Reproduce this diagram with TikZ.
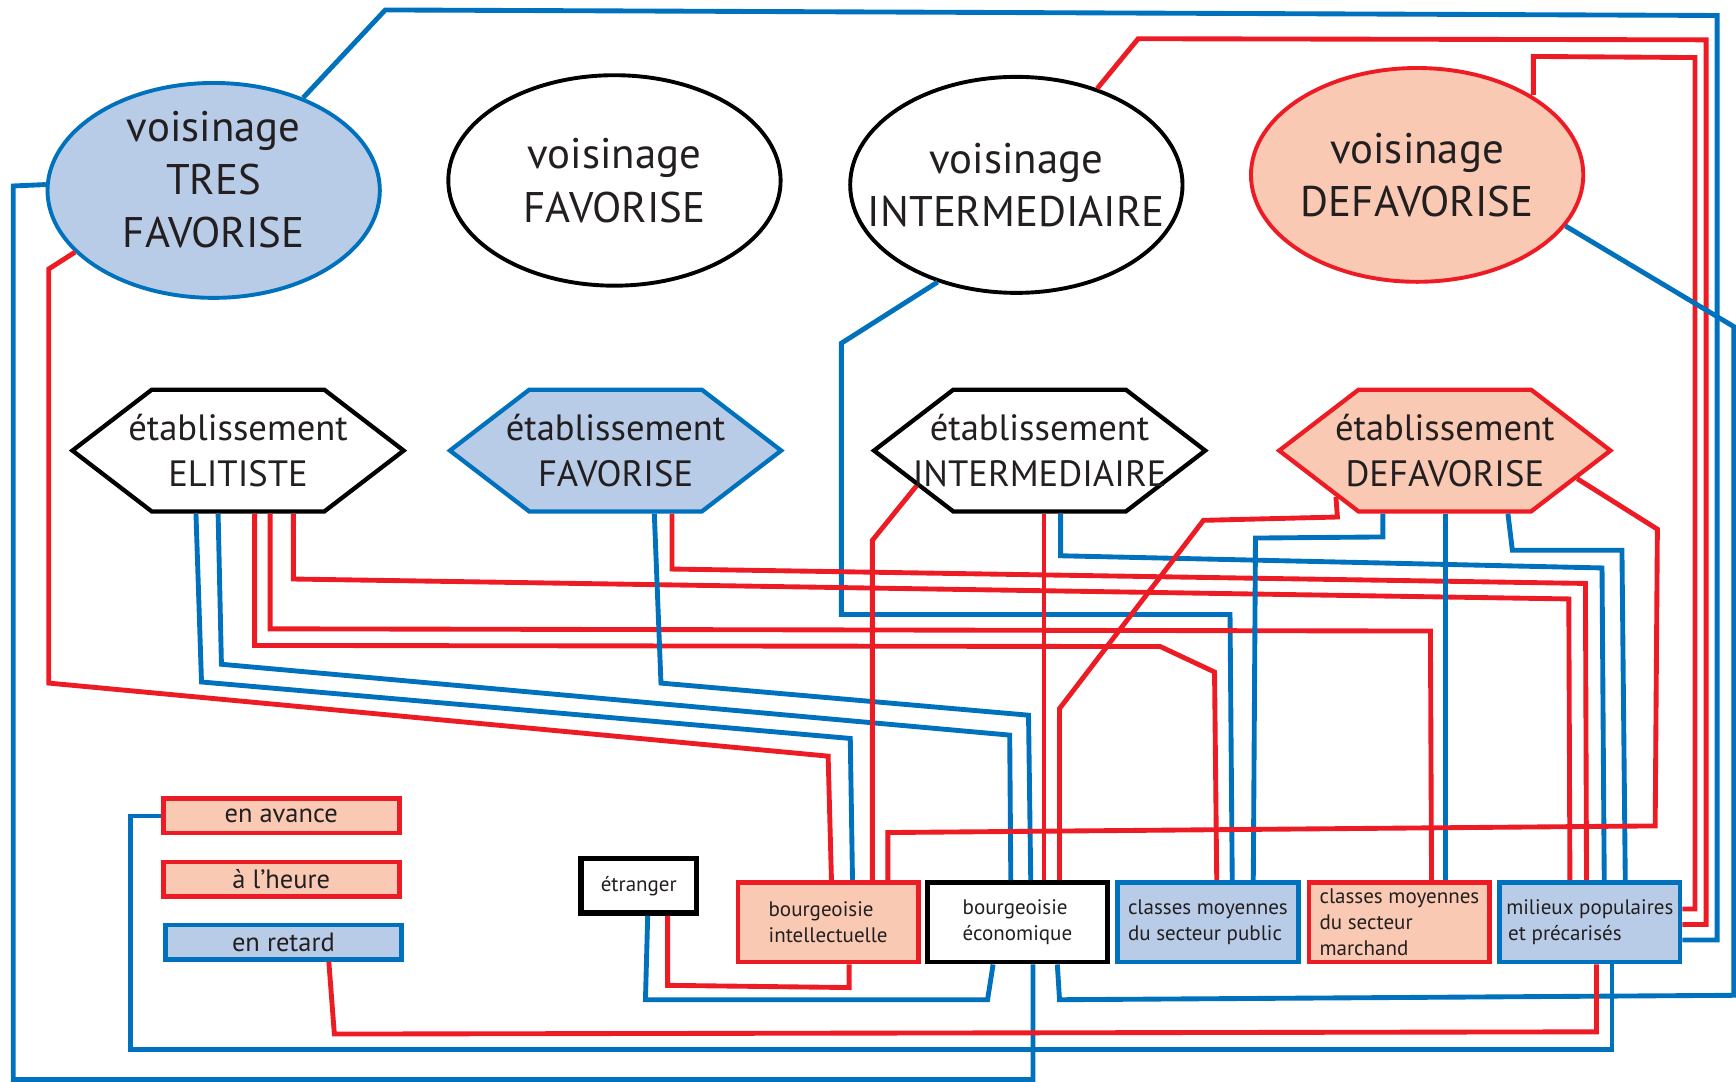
\documentclass[tikz,border=0pt]{standalone}
\usepackage{fontspec}
\setmainfont{PT Sans}
\usepackage{tikz}
\usetikzlibrary{shapes.geometric,shapes.symbols}
\definecolor{lnblue}{HTML}{0071BC}
\definecolor{lnred}{HTML}{ED1C24}
\definecolor{fillblue}{HTML}{B8CCE8}
\definecolor{fillrose}{HTML}{F9C9B3}
\definecolor{txtdark}{HTML}{231F20}

\begin{document}
\begin{tikzpicture}[x=0.01cm, y=-0.01cm,
  voisin/.style={ellipse, line width=1pt, inner xsep=-0.35cm, inner ysep=-0.2cm, minimum width=3cm, align=center, text=txtdark, font=\fontsize{11}{13.7}\selectfont},
  etab/.style={signal, signal to=west and east, signal pointer angle=75, line width=1.1pt, inner xsep=-0.5cm, inner ysep=0pt, minimum width=2.99cm, minimum height=1.1cm, align=center, text=txtdark, font=\fontsize{9.4}{12}\selectfont},
  classe/.style={rectangle, line width=1.2pt, inner sep=0pt, minimum width=1.63cm, minimum height=0.72cm, align=left, text=txtdark, font=\fontsize{5.4}{6.6}\selectfont},
  legende/.style={rectangle, line width=1.2pt, inner sep=0pt, minimum width=2.13cm, minimum height=0.31cm, text=txtdark, font=\fontsize{6.8}{7}\selectfont},
  bleu/.style={draw=lnblue, fill=fillblue},
  rose/.style={draw=lnred, fill=fillrose},
  blanc/.style={draw=black, fill=white},
  rlien/.style={lnred, line width=1.25pt},
  blien/.style={lnblue, line width=1.25pt},
]
\useasboundingbox (0,0) rectangle (1568,977);

% voisinages (top row)
\node[voisin, bleu, minimum height=1.94cm, text depth=0.2cm] (vtf) at (193,172) {voisinage\\TRES\\FAVORISE};
\node[voisin, blanc, minimum height=1.90cm] (vf)  at (555,163)  {voisinage\\FAVORISE};
\node[voisin, blanc, minimum height=1.95cm] (vi)  at (918,167)  {voisinage\\INTERMEDIAIRE};
\node[voisin, rose, minimum height=1.93cm]  (vd)  at (1280,158) {voisinage\\DEFAVORISE};

% etablissements (middle row)
\node[etab, blanc] (ee) at (215,407)  {établissement\\ELITISTE};
\node[etab, bleu]  (ef) at (556,407)  {établissement\\FAVORISE};
\node[etab, blanc] (ei) at (939,407)  {établissement\\INTERMEDIAIRE};
\node[etab, rose]  (ed) at (1305,407) {établissement\\DEFAVORISE};

% origines sociales (bottom row)
\node[classe, blanc, line width=1.5pt, minimum width=1.04cm, minimum height=0.49cm] (etr) at (577,800) {étranger};
\node[classe, rose]  (bi)  at (748,833)  {bourgeoisie\\intellectuelle};
\node[classe, blanc] (be)  at (919,833)  {bourgeoisie\\économique};
\node[classe, bleu]  (cmp) at (1091,833) {classes moyennes\\du secteur public};
\node[classe, rose]  (cmm) at (1264,833) {classes moyennes\\du secteur\\marchand};
\node[classe, bleu]  (mpp) at (1436,833) {milieux populaires\\\hspace{0.5pt}et précarisés};

% legende
\foreach \nm/\xx/\yy/\sty/\txt in {avance/254/737/rose/en avance, heure/254/794/rose/à l'heure, retard/256/851/bleu/en retard}
  \node[legende, \sty] (\nm) at (\xx,\yy) {\txt};

% liens depuis les voisinages
\draw[blien] (vtf.46) -- (348,9) -- (1551,14) -- (1551,849) -- (mpp.east |- 0,849);
\draw[blien] (vtf.178) -- (12,168) -- (12,975) -- (933,975) -- (933,0 |- be.south);
\draw[rlien] (vtf.204) -- (44,243) -- (44,617) -- (748,683) -- (751,0 |- bi.north);
\draw[blien] (vi.231) -- (760,310) -- (760,555) -- (1111,555) -- (1113,0 |- cmp.north);
\draw[rlien] (vi.50) -- (1028,35) -- (1541,36) -- (1541,835) -- (mpp.east |- 0,835);
\draw[rlien] (1385,0 |- vd.35) -- (1385,51) -- (1531,52) -- (1531,821) -- (mpp.east |- 0,821);
\draw[blien] (vd.-19) -- (1566,295) -- (1566,899) -- (957,903) -- (955,0 |- be.south);

% liens depuis les etablissements
\draw[rlien] (265,0 |- ee.south) -- (265,523) -- (1417,541) -- (1418,0 |- mpp.north);
\draw[rlien] (244,0 |- ee.south) -- (244,568) -- (1292,570) -- (1293,0 |- cmm.north);
\draw[rlien] (230,0 |- ee.south) -- (230,583) -- (1048,584) -- (1097,607) -- (1099,0 |- cmp.north);
\draw[blien] (197,0 |- ee.south) -- (200,600) -- (912,664) -- (913,0 |- be.north);
\draw[blien] (177,0 |- ee.south) -- (182,616) -- (768,667) -- (770,0 |- bi.north);
\draw[blien] (591,0 |- ef.south) -- (597,617) -- (929,646) -- (931,0 |- be.north);
\draw[rlien] (607,0 |- ef.south) -- (607,514) -- (1432,527) -- (1433,0 |- mpp.north);
\draw[rlien] (ei.196) -- (788,488) -- (788,0 |- bi.north);
\draw[rlien] (943,0 |- ei.south) -- (943,0 |- be.north);
\draw[blien] (958,0 |- ei.south) -- (958,502) -- (1447,513) -- (1449,0 |- mpp.north);
\draw[rlien] (ed.203) -- (1208,467) -- (1087,470) -- (957,640) -- (957,0 |- be.north);
\draw[blien] (1249,0 |- ed.south) -- (1249,485) -- (1134,486) -- (1132,0 |- cmp.north);
\draw[blien] (1306,0 |- ed.south) -- (1306,0 |- cmm.north);
\draw[blien] (1362,0 |- ed.south) -- (1366,497) -- (1465,497) -- (1468,0 |- mpp.north);
\draw[rlien] (ed.-12) -- (1497,478) -- (1495,746) -- (802,752) -- (802,0 |- bi.north);

% liens du bas
\draw[rlien] (767,0 |- bi.south) -- (767,892) -- (603,890) -- (603,0 |- etr.south);
\draw[blien] (585,0 |- etr.south) -- (583,903) -- (892,903) -- (897,0 |- be.south);
\draw[blien] (avance.west) -- (118,737) -- (118,948) -- (1456,948) -- (1456,0 |- mpp.south);
\draw[rlien] (297,0 |- retard.south) -- (302,934) -- (1442,932) -- (1442,0 |- mpp.south);
\end{tikzpicture}
\end{document}
